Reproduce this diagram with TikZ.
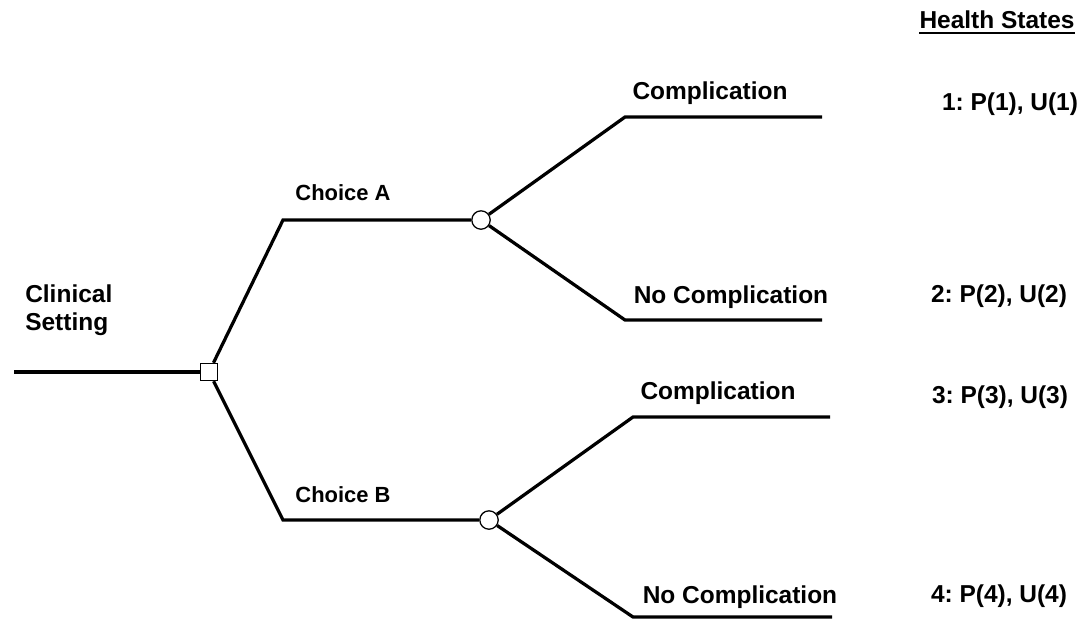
\documentclass[tikz,border=0pt]{standalone}
\usepackage{fontspec}
\setmainfont{Liberation Sans}
\frenchspacing

\begin{document}
\begin{tikzpicture}[
  x=0.025cm, y=-0.025cm,
  branch/.style={line width=2.3pt, line join=miter},
  decision/.style={
    rectangle, draw, fill=white, line width=0.9pt,
    minimum size=0.43cm, inner sep=0pt
  },
  chance/.style={
    circle, draw, fill=white, line width=0.9pt,
    minimum size=0.46cm, inner sep=0pt
  },
  lbl/.style={anchor=base, inner sep=0pt, font=\fontsize{17.4}{20.6}\selectfont\bfseries},
  choice/.style={lbl, font=\fontsize{15.6}{19}\selectfont\bfseries}
]
  \useasboundingbox (0,0) rectangle (1083,620);

  \coordinate (start) at (14,372);
  \node[decision] (dec) at (209,372) {};
  \coordinate (a) at (283,220);
  \coordinate (b) at (283,520);
  \node[chance] (chA) at (481,220) {};
  \node[chance] (chB) at (489,520) {};
  \coordinate (a1) at (625,117);  \coordinate (a1e) at (822,117);
  \coordinate (a2) at (625,320);  \coordinate (a2e) at (822,320);
  \coordinate (b1) at (633,417);  \coordinate (b1e) at (830,417);
  \coordinate (b2) at (633,617);  \coordinate (b2e) at (832,617);

  \draw[branch] (start) -- (dec);
  \draw[branch] (dec) -- (a) -- (chA);
  \draw[branch] (dec) -- (b) -- (chB);
  \draw[branch] (chA) -- (a1) -- (a1e);
  \draw[branch] (chA) -- (a2) -- (a2e);
  \draw[branch] (chB) -- (b1) -- (b1e);
  \draw[branch] (chB) -- (b2) -- (b2e);

  \node[lbl, anchor=north west, align=left] (setting) at (25,284) {Clinical\\Setting};
  \node[choice] (choiceA) at (343,200) {Choice A};
  \node[choice] (choiceB) at (343,502) {Choice B};
  \node[lbl] (compA)   at (710,99)  {Complication};
  \node[lbl] (nocompA) at (731,303) {No Complication};
  \node[lbl] (compB)   at (718,399) {Complication};
  \node[lbl] (nocompB) at (740,603) {No Complication};

  \node[lbl] (hs) at (997,28) {Health States};
  \draw[line width=1.6pt] ([yshift=-0.13cm]hs.base west) -- ([yshift=-0.13cm]hs.base east);
  \node[lbl] (hs1) at (1010,110) {1: P(1), U(1)};
  \node[lbl] (hs2) at (999,302)  {2: P(2), U(2)};
  \node[lbl] (hs3) at (1000,403) {3: P(3), U(3)};
  \node[lbl] (hs4) at (999,602)  {4: P(4), U(4)};
\end{tikzpicture}
\end{document}
